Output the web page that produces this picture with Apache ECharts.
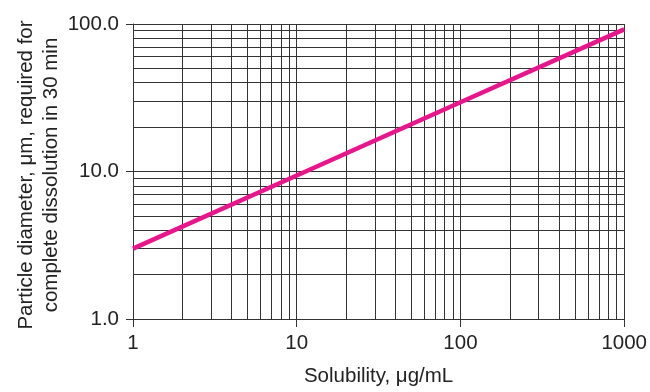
<!DOCTYPE html>
<html>
<head>
<meta charset="utf-8">
<script src="https://cdn.jsdelivr.net/npm/echarts@6/dist/echarts.min.js"></script>
<style>html,body{margin:0;padding:0;background:#fff}#c{width:650px;height:392px}</style>
</head>
<body>
<div id="c"></div>
<script>
const solubility = [1, 10, 100, 1000];
const diameter = [3.0, 9.4, 29.5, 92];
const xMinorGrid = [2,3,4,5,6,7,8,9,20,30,40,50,60,70,80,90,200,300,400,500,600,700,800,900];
const yMinorGrid = [2,3,4,5,6,7,8,9,20,30,40,50,60,70,80,90];
const xTitle = 'Solubility, \u03bcg/mL';
const yTitle = 'Particle diameter, \u03bcm, required for\ncomplete dissolution in 30 min';

const chart = echarts.init(document.getElementById('c'), null, {renderer: 'canvas'});
const gridColor = '#333';
const textColor = '#222';
const font = 'Liberation Sans, Arial, sans-serif';
const markData = xMinorGrid.map(v => ({xAxis: v})).concat(yMinorGrid.map(v => ({yAxis: v})));
chart.setOption({
  animation: false,
  grid: {left: 133, right: 24, top: 24, bottom: 66},
  graphic: [{
    type: 'text', x: 39, y: 175, rotation: Math.PI / 2, silent: true,
    style: {
      text: yTitle, fontSize: 20.5, fontFamily: font, fill: textColor,
      align: 'center', verticalAlign: 'middle', lineHeight: 24.5
    }
  }],
  xAxis: {
    type: 'log', logBase: 10, min: 1, max: 1000,
    name: xTitle, nameLocation: 'middle', nameGap: 47,
    nameTextStyle: {fontSize: 20.5, color: textColor, fontFamily: font},
    axisLine: {show: true, lineStyle: {color: gridColor, width: 1}},
    axisTick: {show: true, length: 8, lineStyle: {color: gridColor}},
    axisLabel: {fontSize: 20.5, color: textColor, fontFamily: font, margin: 14,
      formatter: v => String(Math.round(v))},
    splitLine: {show: true, lineStyle: {color: gridColor, width: 1}},
    minorTick: {show: false}, minorSplitLine: {show: false}
  },
  yAxis: {
    type: 'log', logBase: 10, min: 1, max: 100,
    axisLine: {show: true, lineStyle: {color: gridColor, width: 1}},
    axisTick: {show: true, length: 7, lineStyle: {color: gridColor}},
    axisLabel: {fontSize: 20.5, color: textColor, fontFamily: font, margin: 14,
      formatter: v => Number(v).toFixed(1)},
    splitLine: {show: true, lineStyle: {color: gridColor, width: 1}},
    minorTick: {show: false}, minorSplitLine: {show: false}
  },
  series: [{
    type: 'line',
    data: solubility.map((x, i) => [x, diameter[i]]),
    showSymbol: false, symbol: 'none',
    lineStyle: {color: '#e8168c', width: 4.5},
    z: 5,
    markLine: {
      silent: true, symbol: ['none', 'none'], animation: false,
      label: {show: false},
      lineStyle: {color: gridColor, width: 1, type: 'solid'},
      emphasis: {disabled: true},
      data: markData,
      z: 1
    }
  }]
});
</script>
</body>
</html>
